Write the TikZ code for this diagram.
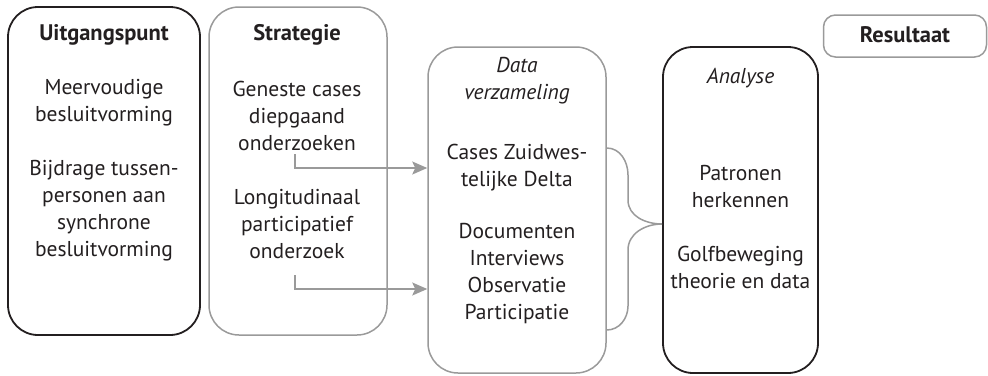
\documentclass[tikz,border=0pt]{standalone}
\usepackage{fontspec}
\setmainfont{PT Sans}
\usetikzlibrary{arrows.meta}
\definecolor{ink}{HTML}{231F20}
\definecolor{frame}{HTML}{9A9A9A}
\tikzset{
  x=1pt, y=-1pt,
  every node/.style={text=ink, font=\fontsize{21.5}{27}\selectfont, align=center, inner sep=0pt},
  darkbox/.style={draw=ink, line width=1.8pt, rounded corners=30pt, minimum height=#1},
  greybox/.style={draw=frame, line width=1.5pt, rounded corners=30pt, minimum height=#1},
  title/.style={font=\fontsize{22.5}{27}\selectfont\bfseries},
  ititle/.style={font=\fontsize{21.5}{27}\selectfont\itshape},
  arr/.style={draw=frame, line width=1.5pt, -{Stealth[length=15pt,width=13pt,inset=3pt]}},
  brace/.style={draw=frame, line width=1.5pt},
}
\begin{document}
\begin{tikzpicture}
\useasboundingbox (0,0) rectangle (988,375);

% frames
\node[darkbox=328pt, minimum width=192pt] (uit) at (104,171) {};
\node[greybox=328pt, minimum width=178pt] (str) at (298,171) {};
\node[greybox=326pt, minimum width=178pt] (dat) at (517,210) {};
\node[darkbox=326pt, minimum width=155pt] (ana) at (740.5,210) {};
\node[draw=frame, line width=1.5pt, rounded corners=12pt, minimum width=163pt, minimum height=42pt] (res) at (905,36) {};

% Uitgangspunt
\node[title] (uitT) at (104,35) {Uitgangspunt};
\node (uit1) at (104,103) {Meervoudige\\besluitvorming};
\node (uit2) at (104,211) {Bijdrage tussen-\\personen aan\\synchrone\\besluitvorming};

% Strategie
\node[title] (strT) at (297,35) {Strategie};
\node (str1) at (297,116) {Geneste cases\\diepgaand\\onderzoeken};
\node (str2) at (297,224) {Longitudinaal\\participatief\\onderzoek};

% Data verzameling
\node[ititle] (datT) at (517,81) {Data\\verzameling};
\node (dat1) at (517,168) {Cases Zuidwes-\\telijke Delta};
\node (dat2) at (517,274) {Documenten\\Interviews\\Observatie\\Participatie};

% Analyse
\node[ititle] (anaT) at (740.5,78) {Analyse};
\node (ana1) at (740.5,187) {Patronen\\herkennen};
\node (ana2) at (740.5,267) {Golfbeweging\\theorie en data};

% Resultaat
\node[title] (resT) at (905,35) {Resultaat};

% arrows from strategy to data collection
\coordinate (s1) at (295,154);
\coordinate (s2) at (295,275);
\draw[arr] (s1) |- (dat.west |- 0,168);
\draw[arr] (s2) |- (dat.west |- 0,289);

% brace joining data collection to analysis
\coordinate (bt) at (dat.east |- 0,148);
\coordinate (bb) at (dat.east |- 0,330);
\coordinate (tip) at (ana.west |- 0,224);
\draw[brace] (bt) to[out=0,in=90] (628,175) -- (628,200) to[out=-90,in=180] (tip)
             to[out=180,in=90] (628,250) -- (628,306) to[out=-90,in=0] (bb);
\end{tikzpicture}
\end{document}
